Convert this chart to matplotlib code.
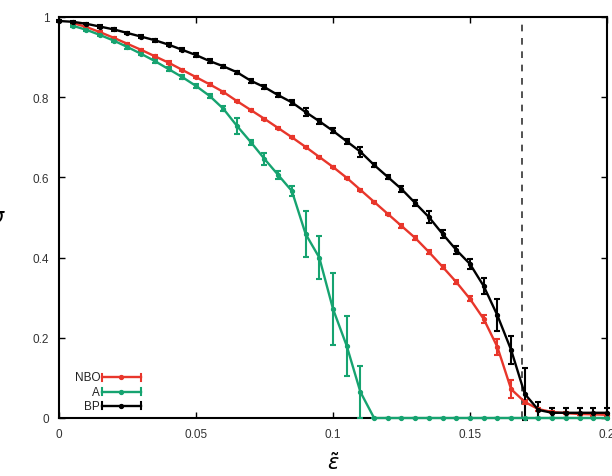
import numpy as np
import matplotlib
matplotlib.use("Agg")
import matplotlib.pyplot as plt

# epsilon grid (step 0.005)
eps = np.round(np.arange(0, 0.2001, 0.005), 3)

bp_y = [0.990, 0.988, 0.983, 0.976, 0.969, 0.960, 0.951, 0.942, 0.931, 0.918,
        0.905, 0.890, 0.877, 0.862, 0.841, 0.825, 0.805, 0.787, 0.763, 0.740,
        0.716, 0.690, 0.664, 0.631, 0.601, 0.571, 0.536, 0.501, 0.459, 0.419,
        0.384, 0.329, 0.256, 0.170, 0.060, 0.020, 0.013, 0.013, 0.013, 0.013,
        0.013]
bp_err = [0.003, 0.003, 0.003, 0.003, 0.003, 0.003, 0.004, 0.004, 0.004, 0.004,
          0.004, 0.004, 0.004, 0.004, 0.005, 0.005, 0.005, 0.006, 0.010, 0.006,
          0.006, 0.006, 0.012, 0.006, 0.006, 0.008, 0.008, 0.014, 0.010, 0.010,
          0.012, 0.020, 0.040, 0.035, 0.065, 0.020, 0.013, 0.013, 0.013, 0.013,
          0.013]

nbo_y = [np.nan, 0.985, 0.975, 0.962, 0.948, 0.933, 0.918, 0.902, 0.886, 0.868,
         0.850, 0.832, 0.813, 0.790, 0.768, 0.746, 0.723, 0.700, 0.676, 0.651,
         0.626, 0.599, 0.569, 0.539, 0.509, 0.479, 0.449, 0.414, 0.377, 0.339,
         0.297, 0.247, 0.177, 0.072, 0.040, 0.022, 0.015, 0.012, 0.010, 0.009,
         0.008]
nbo_err = [0.0, 0.003, 0.003, 0.003, 0.003, 0.003, 0.003, 0.003, 0.003, 0.003,
           0.003, 0.003, 0.003, 0.003, 0.003, 0.003, 0.003, 0.003, 0.003, 0.003,
           0.003, 0.003, 0.003, 0.003, 0.003, 0.004, 0.004, 0.005, 0.005, 0.006,
           0.006, 0.010, 0.020, 0.022, 0.006, 0.004, 0.003, 0.003, 0.003, 0.003,
           0.003]

a_y = [np.nan, 0.978, 0.968, 0.955, 0.941, 0.925, 0.908, 0.890, 0.870, 0.850,
       0.828, 0.803, 0.771, 0.728, 0.688, 0.646, 0.606, 0.566, 0.459, 0.400,
       0.272, 0.180, 0.065, 0.0, 0.0, 0.0, 0.0, 0.0, 0.0, 0.0,
       0.0, 0.0, 0.0, 0.0, 0.0, 0.0, 0.0, 0.0, 0.0, 0.0,
       0.0]
a_err = [0.0, 0.003, 0.003, 0.003, 0.003, 0.004, 0.004, 0.004, 0.005, 0.005,
         0.005, 0.006, 0.006, 0.019, 0.006, 0.015, 0.010, 0.012, 0.057, 0.053,
         0.090, 0.075, 0.065, 0.0, 0.0, 0.0, 0.0, 0.0, 0.0, 0.0,
         0.0, 0.0, 0.0, 0.0, 0.0, 0.0, 0.0, 0.0, 0.0, 0.0,
         0.0]

eps_c = 0.169

series = [
    ("NBO", nbo_y, nbo_err, "#e8362b"),
    ("A", a_y, a_err, "#16a370"),
    ("BP", bp_y, bp_err, "#000000"),
]

plt.rcParams["font.family"] = ["Liberation Sans", "DejaVu Sans"]

fig = plt.figure(figsize=(6.12, 4.77), dpi=100)
ax = fig.add_axes([0.0964, 0.1216, 0.8954, 0.8407])

for name, y, err, col in series:
    ax.errorbar(eps, y, yerr=err, color=col, lw=1.7, marker="o", ms=2.8,
                capsize=2.5, elinewidth=1.5, capthick=1.5, zorder=3,
                clip_on=False)

ax.axvline(eps_c, color="#333333", lw=1.2, dashes=(4, 4), zorder=2)

# gnuplot-style key in the lower left
for i, (name, y, err, col) in enumerate(series):
    yk = 0.101 - i * 0.035
    ax.text(0.075, yk, name, transform=ax.transAxes, ha="right", va="center",
            fontsize=8.5, color="#222222")
    ax.plot([0.078, 0.150], [yk, yk], color=col, lw=1.7,
            transform=ax.transAxes, clip_on=False)
    ax.plot([0.114], [yk], color=col, marker="o", ms=2.8,
            transform=ax.transAxes, clip_on=False)
    for xe in (0.078, 0.150):
        ax.plot([xe, xe], [yk - 0.008, yk + 0.008], color=col, lw=1.5,
                transform=ax.transAxes, clip_on=False)

ax.set_xlim(0, 0.2)
ax.set_ylim(0, 1)
ax.set_xticks([0, 0.05, 0.1, 0.15, 0.2])
ax.set_xticklabels(["0", "0.05", "0.1", "0.15", "0.2"])
ax.set_yticks([0, 0.2, 0.4, 0.6, 0.8, 1])
ax.set_yticklabels(["0", "0.2", "0.4", "0.6", "0.8", "1"])
ax.tick_params(direction="in", top=True, right=True, length=4, width=1,
               labelsize=8.5, labelcolor="#333333", pad=7)
for s in ax.spines.values():
    s.set_linewidth(1.5)

ax.set_xlabel(r"$\tilde{\varepsilon}$", fontsize=15, labelpad=8)
fig.text(-0.004, 0.545, r"$\sigma$", fontsize=15, ha="center", va="center")

fig.savefig("out.png", dpi=100)
